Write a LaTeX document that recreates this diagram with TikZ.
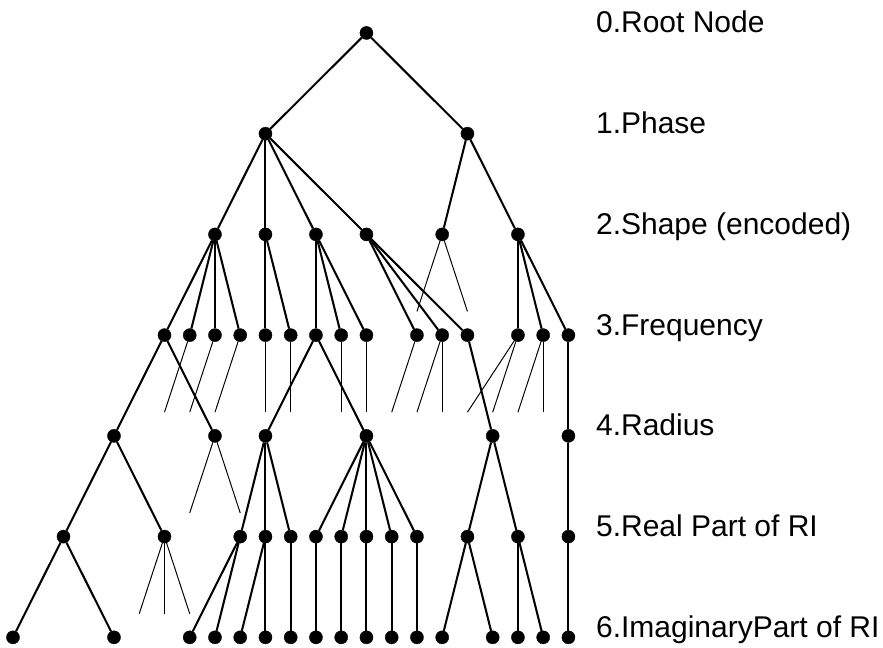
\documentclass[tikz,border=0pt]{standalone}
\usepackage{fontspec}
\setmainfont{Liberation Sans}
\usepackage{tikz}
\usetikzlibrary{shapes}

\begin{document}
\begin{tikzpicture}[x=1cm,y=-3.99cm]
    \tikzstyle{dot} = [draw,circle,fill=black,inner sep=0pt,minimum size=0.52cm]
    \tikzstyle{edge} = [line width=2.3pt]
    \tikzstyle{stub} = [line width=1.1pt]
    \tikzstyle{levellabel} = [anchor=base west,inner sep=0pt,font=\fontsize{33.8}{40}\selectfont]
    \useasboundingbox (-0.515,-0.327) rectangle (34.46,6.105);
    % nodes, level by level
    \node[dot] (n0-14) at (14,0) {};
    \foreach \k in {10,18} \node[dot] (n1-\k) at (\k,1) {};
    \foreach \k in {8,10,12,14,17,20} \node[dot] (n2-\k) at (\k,2) {};
    \foreach \k in {6,7,8,9,10,11,12,13,14,16,17,18,20,21,22} \node[dot] (n3-\k) at (\k,3) {};
    \foreach \k in {4,8,10,14,19,22} \node[dot] (n4-\k) at (\k,4) {};
    \foreach \k in {2,6,9,10,11,12,13,14,15,16,18,20,22} \node[dot] (n5-\k) at (\k,5) {};
    \foreach \k in {0,4,7,8,9,10,11,12,13,14,15,16,17,19,20,21,22} \node[dot] (n6-\k) at (\k,6) {};
    % edges
    \foreach \a/\b in {0-14/1-10,0-14/1-18,
        1-10/2-8,1-10/2-10,1-10/2-12,1-10/2-14,1-18/2-17,1-18/2-20,
        2-8/3-6,2-8/3-7,2-8/3-8,2-8/3-9,2-10/3-10,2-10/3-11,
        2-12/3-12,2-12/3-13,2-12/3-14,2-14/3-16,2-14/3-17,2-14/3-18,
        2-20/3-20,2-20/3-21,2-20/3-22,
        3-6/4-4,3-6/4-8,3-12/4-10,3-12/4-14,3-18/4-19,3-22/4-22,
        4-4/5-2,4-4/5-6,4-10/5-9,4-10/5-10,4-10/5-11,
        4-14/5-12,4-14/5-13,4-14/5-14,4-14/5-15,4-14/5-16,
        4-19/5-18,4-19/5-20,4-22/5-22,
        5-2/6-0,5-2/6-4,5-9/6-7,5-9/6-8,5-10/6-9,5-10/6-10,5-11/6-11,
        5-12/6-12,5-13/6-13,5-14/6-14,5-15/6-15,5-16/6-16,
        5-18/6-17,5-18/6-19,5-20/6-20,5-20/6-21,5-22/6-22}
        \draw[edge] (n\a) -- (n\b);
    % cut branches
    \foreach \L/\a/\b in {2/17/16,2/17/18,
        3/7/6,3/8/7,3/9/8,3/10/10,3/11/11,3/13/13,3/14/14,
        3/16/15,3/17/16,3/17/17,3/20/18,3/20/19,3/21/20,3/21/21,
        4/8/7,4/8/9,5/6/5,5/6/6,5/6/7} {
        \coordinate (e\L-\b) at (\b,\L+0.765);
        \draw[stub] (n\L-\a) -- (e\L-\b);
    }
    \node[levellabel] (lab0) at (23.09,0) {0.Root Node};
    \node[levellabel] (lab1) at (23.09,1) {1.Phase};
    \node[levellabel] (lab2) at (23.09,2) {2.Shape (encoded)};
    \node[levellabel] (lab3) at (23.09,3) {3.Frequency};
    \node[levellabel] (lab4) at (23.09,4) {4.Radius};
    \node[levellabel] (lab5) at (23.09,5) {5.Real Part of RI};
    \node[levellabel] (lab6) at (23.09,6) {6.ImaginaryPart of RI};
\end{tikzpicture}
\end{document}
